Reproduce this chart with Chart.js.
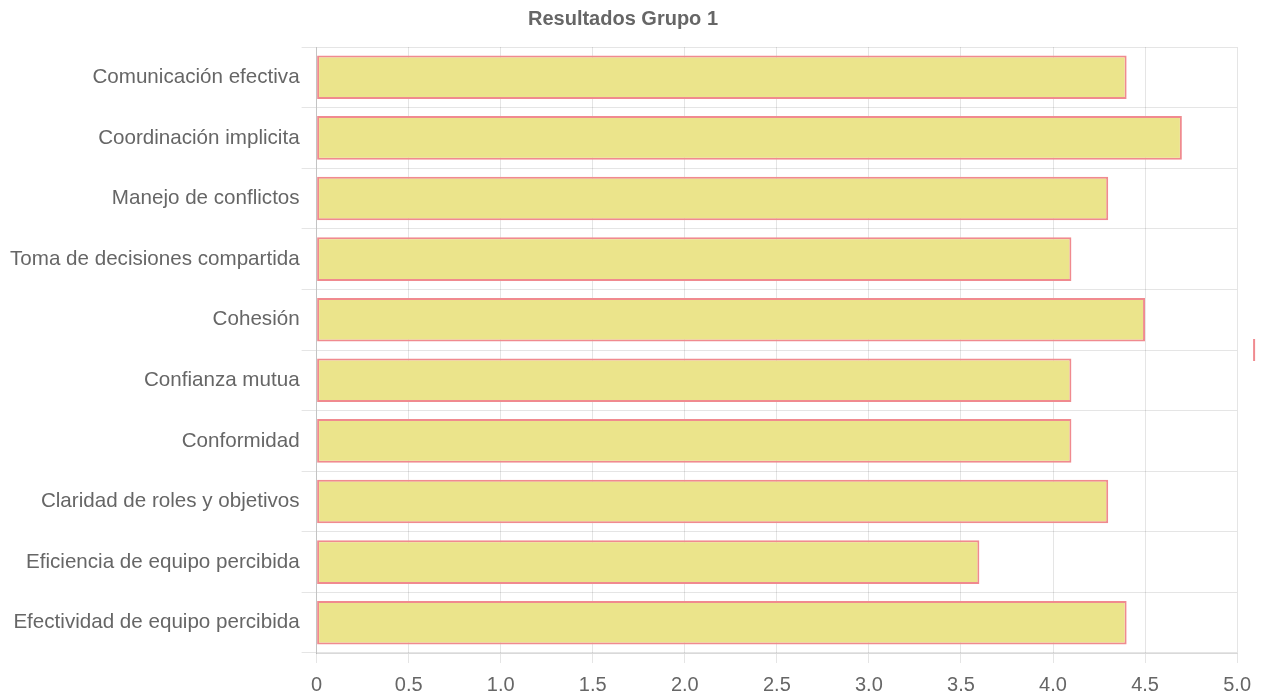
<!DOCTYPE html>
<html>
<head>
<meta charset="utf-8">
<script src="https://cdn.jsdelivr.net/npm/chart.js@4/dist/chart.umd.min.js"></script>
<style>
  html, body { margin: 0; padding: 0; background: #fff; overflow: hidden; }
  #wrap { width: 1263px; height: 696px; }
</style>
</head>
<body>
<div id="wrap"><canvas id="c" width="1263" height="696"></canvas></div>
<script>
// Categories and scores for group 1
const categories = [
  'Comunicación efectiva',
  'Coordinación implicita',
  'Manejo de conflictos',
  'Toma de decisiones compartida',
  'Cohesión',
  'Confianza mutua',
  'Conformidad',
  'Claridad de roles y objetivos',
  'Eficiencia de equipo percibida',
  'Efectividad de equipo percibida'
];
const scores = [4.4, 4.7, 4.3, 4.1, 4.5, 4.1, 4.1, 4.3, 3.6, 4.4];
const chartTitle = 'Resultados Grupo 1';
const seriesLabel = 'Grupo 1';

const FONT = "'Liberation Sans', Arial, Helvetica, sans-serif";
const TEXT = '#666';

// Small legend swatch sitting just right of the plot, vertically centred
const legendStub = {
  id: 'legendStub',
  afterDraw(chart) {
    const { ctx, chartArea } = chart;
    const ds = chart.data.datasets[0];
    const cy = (chartArea.top + chartArea.bottom) / 2;
    ctx.save();
    ctx.strokeStyle = ds.borderColor;
    ctx.lineWidth = 2;
    ctx.beginPath();
    ctx.moveTo(chartArea.right + 17, cy - 11);
    ctx.lineTo(chartArea.right + 17, cy + 11);
    ctx.stroke();
    ctx.restore();
  }
};

new Chart(document.getElementById('c'), {
  type: 'bar',
  data: {
    labels: categories,
    datasets: [{
      label: seriesLabel,
      data: scores,
      backgroundColor: '#ebe48b',
      borderColor: '#f08a8f',
      borderWidth: 2,
      borderSkipped: false
    }]
  },
  options: {
    indexAxis: 'y',
    responsive: false,
    animation: false,
    layout: { padding: { left: 8, right: 25, top: 0, bottom: -11 } },
    plugins: {
      legend: { display: false },
      tooltip: { enabled: false },
      title: {
        display: true,
        text: chartTitle,
        color: TEXT,
        font: { family: FONT, size: 20, weight: 'bold' },
        padding: { top: 7, bottom: 16 }
      }
    },
    scales: {
      x: {
        min: 0,
        max: 5,
        ticks: {
          stepSize: 0.5,
          color: TEXT,
          font: { family: FONT, size: 20, lineHeight: 1 },
          padding: 12,
          callback: v => v === 0 ? '0' : Number(v).toFixed(1)
        },
        grid: { color: 'rgba(0,0,0,0.1)', tickLength: 10 },
        border: { color: 'rgba(0,0,0,0.15)' }
      },
      y: {
        ticks: {
          color: TEXT,
          font: { family: FONT, size: 20.6 },
          padding: 2
        },
        grid: { color: 'rgba(0,0,0,0.1)', tickLength: 15, offset: true },
        border: { color: 'rgba(0,0,0,0.15)' }
      }
    }
  },
  plugins: [legendStub]
});
</script>
</body>
</html>
